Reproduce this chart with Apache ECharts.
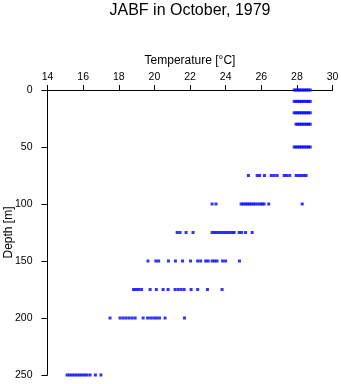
<!DOCTYPE html>
<html>
<head>
<meta charset="utf-8">
<script src="https://cdn.jsdelivr.net/npm/echarts@6/dist/echarts.min.js"></script>
<style>html,body{margin:0;padding:0;background:#fff;}#c{width:341px;height:384px;}</style>
</head>
<body>
<div id="c"></div>
<script>
const title = 'JABF in October, 1979';
const xName = 'Temperature [°C]';
const yName = 'Depth [m]';
const depths = [0, 10, 20, 30, 50, 75, 100, 125, 150, 175, 200, 250];
const t0   = [27.85, 27.95, 28.05, 28.15, 28.25, 28.35, 28.45, 28.55, 28.65, 28.75];
const t10  = [27.85, 27.95, 28.05, 28.15, 28.25, 28.35, 28.45, 28.55, 28.65, 28.75];
const t20  = [27.85, 27.95, 28.05, 28.15, 28.25, 28.35, 28.45, 28.55, 28.65, 28.75];
const t30  = [27.95, 28.05, 28.15, 28.25, 28.35, 28.45, 28.55, 28.65, 28.75];
const t50  = [27.85, 27.95, 28.05, 28.15, 28.25, 28.35, 28.45, 28.55, 28.65, 28.75];
const t75  = [25.28, 25.77, 25.91, 26.18, 26.56, 26.72, 26.89, 27.29, 27.43, 27.60, 27.96, 28.10, 28.24, 28.38, 28.52];
const t100 = [23.24, 23.46, 24.87, 24.98, 25.10, 25.21, 25.32, 25.43, 25.55, 25.66, 25.80, 25.94, 26.05, 26.16, 26.42, 28.30];
const t125 = [21.28, 21.44, 21.78, 22.17, 23.24, 23.38, 23.52, 23.66, 23.80, 23.94, 24.08, 24.22, 24.37, 24.48, 24.76, 24.90, 25.12, 25.49];
const t150 = [19.64, 20.08, 20.24, 20.79, 21.18, 21.58, 22.03, 22.43, 22.60, 22.88, 23.02, 23.24, 23.38, 23.52, 23.83, 24.00, 24.78];
const t175 = [18.83, 18.97, 19.11, 19.28, 19.76, 20.11, 20.49, 20.77, 21.16, 21.33, 21.50, 21.67, 22.06, 22.43, 22.98, 23.80];
const t200 = [17.51, 18.07, 18.24, 18.41, 18.58, 18.75, 18.92, 19.37, 19.62, 19.79, 19.96, 20.12, 20.29, 20.60, 21.69];
const t250 = [15.10, 15.24, 15.38, 15.52, 15.66, 15.80, 15.94, 16.08, 16.22, 16.39, 16.69, 17.00];
const temps = [t0, t10, t20, t30, t50, t75, t100, t125, t150, t175, t200, t250];

const points = [];
depths.forEach((d, i) => temps[i].forEach(t => points.push([t, d])));

const chart = echarts.init(document.getElementById('c'), null, {renderer: 'canvas'});
const font = 'Liberation Sans, Arial, sans-serif';
chart.setOption({
  animation: false,
  backgroundColor: '#fff',
  title: {
    text: title, left: 185, textAlign: 'center', top: -2,
    textStyle: {fontFamily: font, fontSize: 16, fontWeight: 'normal', color: '#000'}
  },
  grid: {left: 47.5, right: 8.5, top: 90, bottom: 9, containLabel: false, outerBoundsMode: 'none'},
  xAxis: {
    type: 'value', position: 'top', min: 14, max: 30, interval: 2,
    name: xName, nameLocation: 'middle', nameGap: 22,
    nameTextStyle: {fontFamily: font, fontSize: 12, color: '#000'},
    axisLine: {show: true, lineStyle: {color: '#000', width: 1}},
    axisTick: {show: true, length: 5, lineStyle: {color: '#000'}},
    axisLabel: {fontFamily: font, fontSize: 10.5, color: '#000', margin: 7},
    splitLine: {show: false}
  },
  yAxis: {
    type: 'value', inverse: true, min: 0, max: 250, interval: 50,
    name: yName, nameLocation: 'middle', nameGap: 33, nameMoveOverlap: false,
    nameTextStyle: {fontFamily: font, fontSize: 12, color: '#000'},
    axisLine: {show: true, lineStyle: {color: '#000', width: 1}},
    axisTick: {show: true, length: 6, lineStyle: {color: '#000'}},
    axisLabel: {fontFamily: font, fontSize: 10.5, color: '#000', margin: 15},
    splitLine: {show: false}
  },
  series: [{
    type: 'scatter', data: points, symbol: 'rect', symbolSize: [3, 3],
    itemStyle: {color: '#0000ff'}
  }]
});
</script>
</body>
</html>
